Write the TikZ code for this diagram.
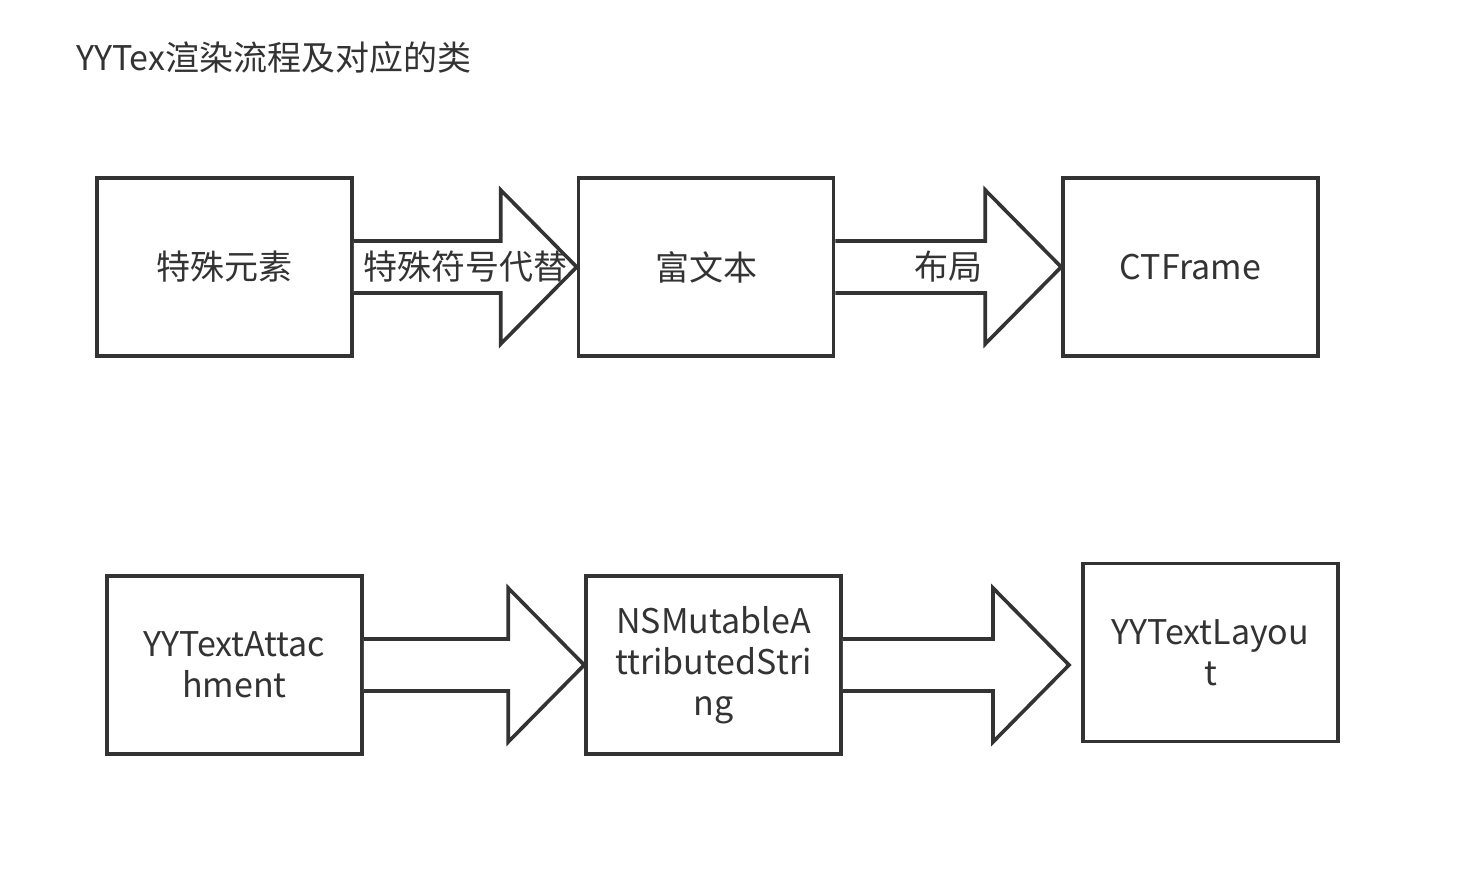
\documentclass[tikz,border=0pt]{standalone}
\usepackage{fontspec}
\setmainfont{Noto Sans CJK SC}
\usepackage{tikz}
\usetikzlibrary{calc}
\definecolor{ink}{HTML}{333333}
\tikzset{
  stage/.style={draw=ink, line width=1.8pt, fill=white, text=ink, align=center,
    minimum width=127.5pt, minimum height=89pt, inner sep=0pt},
  fatarrow/.style={draw=ink, line width=1.8pt, fill=white, line join=miter},
  lbl/.style={text=ink, inner sep=0pt}
}

\begin{document}
\begin{tikzpicture}[x=0.5pt, y=-0.5pt, font=\fontsize{17}{20.5}\selectfont]
\useasboundingbox (0,0) rectangle (1462,870);
\node[lbl, anchor=west] (title) at (76,58) {YYTex渲染流程及对应的类};
% top row
\node[stage] (t1) at (224.5,267) {特殊元素};
\node[stage] (t2) at (706,267) {富文本};
\node[stage] (t3) at (1190.5,267) {CTFrame};
% bottom row
\node[stage] (b1) at (234.5,665) {YYTextAttac\\hment};
\node[stage] (b2) at (713.5,665) {NSMutableA\\ttributedStri\\ng};
\node[stage] (b3) at (1210.5,652.5) {YYTextLayou\\t};
\coordinate (e) at (1069,665);
% block arrows
\foreach \s/\t in {t1.east/t2.west, t2.east/t3.west, b1.east/b2.west, b2.east/e}
  \draw[fatarrow] ($(\s)+(0,-26)$) -- ($(\t)+(-76,-26)$) -- ($(\t)+(-76,-77)$) -- (\t)
    -- ($(\t)+(-76,77)$) -- ($(\t)+(-76,26)$) -- ($(\s)+(0,26)$);
\node[lbl] (l1) at ($(t1.east)!0.5!(t2.west)$) {特殊符号代替};
\node[lbl] (l2) at ($(t2.east)!0.5!(t3.west)$) {布局};
\end{tikzpicture}
\end{document}
